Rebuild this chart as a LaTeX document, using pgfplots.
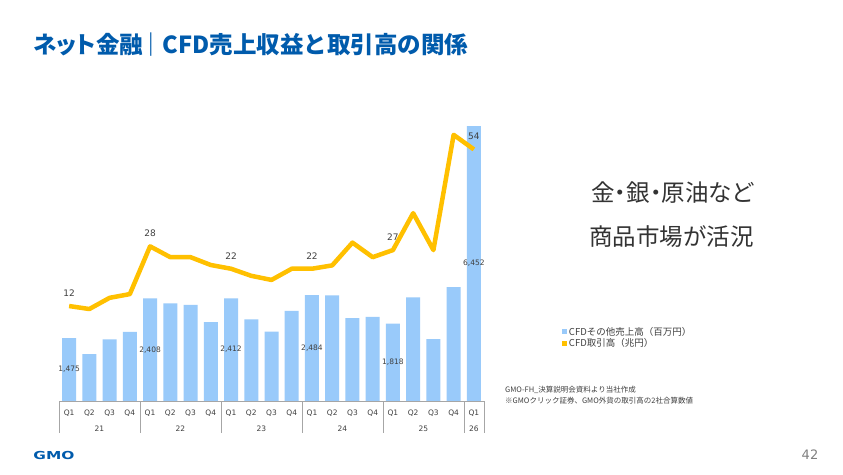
\documentclass[border=0pt]{standalone}
\usepackage{pgfplots}
\pgfplotsset{compat=1.18}
\usepackage{fontspec}
\setmainfont{DejaVu Sans}
\newfontfamily\jp{Noto Sans CJK JP}
\newfontfamily\jpp{Noto Sans CJK JP}[RawFeature=+palt]
\definecolor{barblue}{RGB}{153,202,250}
\definecolor{gold}{RGB}{255,192,0}
\definecolor{gmoblue}{RGB}{0,91,172}
\definecolor{txt}{RGB}{64,64,64}
\definecolor{sep}{RGB}{166,166,166}
\begin{document}
\begin{tikzpicture}
\useasboundingbox[fill=white] (0,0) rectangle (843pt,474pt);
\node[anchor=west, text=gmoblue, font=\jp\bfseries\fontsize{23.5}{23.5}\selectfont, inner sep=0pt] at (33pt,429pt) {{\jpp\bfseries ネット}金融\hspace{-4pt}｜\hspace{0pt}CFD売上収益と取引高の関係};
% bars
\begin{axis}[at={(59pt,73pt)}, anchor=south west, scale only axis,
  width=425pt, height=291pt, xmin=-0.5, xmax=20.5, ymin=0, ymax=6831,
  clip=false, axis line style={draw=none}, ytick=\empty,
  xtick={0,...,20}, major tick length=0pt,
  xticklabels={Q1,Q2,Q3,Q4,Q1,Q2,Q3,Q4,Q1,Q2,Q3,Q4,Q1,Q2,Q3,Q4,Q1,Q2,Q3,Q4,Q1},
  xticklabel style={font=\fontsize{7.5}{7.5}\selectfont, text=txt, anchor=center, yshift=-12pt},
  extra x ticks={1.5,5.5,9.5,13.5,17.5,20},
  extra x tick labels={21,22,23,24,25,26},
  extra x tick style={xticklabel style={yshift=-16pt}},
]
\addplot[ybar, bar width=14pt, fill=barblue, draw=none] coordinates {
(0,1475) (1,1103) (2,1448) (3,1620) (4,2408) (5,2293) (6,2254) (7,1854)
(8,2412) (9,1918) (10,1627) (11,2113) (12,2484) (13,2480) (14,1948) (15,1972)
(16,1818) (17,2434) (18,1455) (19,2676) (20,6452)};
\addplot[draw=none, mark=none, nodes near coords, point meta=explicit symbolic,
  nodes near coords align=center,
  every node near coord/.append style={font=\fontsize{7.5}{7.5}\selectfont, text=txt, anchor=center}]
coordinates {(0,737.5)[1,475] (4,1204)[2,408] (8,1206)[2,412] (12,1242)[2,484] (16,909)[1,818] (20,3226)[6,452]};
\draw[sep] (axis cs:-0.5,0) -- (axis cs:20.5,0);
\draw[sep] (axis cs:-0.5,0) -- ([yshift=-32pt]axis cs:-0.5,0);
\draw[sep] (axis cs:3.5,0) -- ([yshift=-32pt]axis cs:3.5,0);
\draw[sep] (axis cs:7.5,0) -- ([yshift=-32pt]axis cs:7.5,0);
\draw[sep] (axis cs:11.5,0) -- ([yshift=-32pt]axis cs:11.5,0);
\draw[sep] (axis cs:15.5,0) -- ([yshift=-32pt]axis cs:15.5,0);
\draw[sep] (axis cs:19.5,0) -- ([yshift=-32pt]axis cs:19.5,0);
\draw[sep] (axis cs:20.5,0) -- ([yshift=-32pt]axis cs:20.5,0);
\end{axis}
% line
\begin{axis}[at={(59pt,73pt)}, anchor=south west, scale only axis,
  width=425pt, height=291pt, xmin=-0.5, xmax=20.5, ymin=-13.46, ymax=64.56,
  clip=false, hide axis,
  legend style={draw=none, fill=none, at={(axis description cs:1.183,0.262)}, anchor=north west,
    font=\jp\fontsize{9.5}{9.5}\selectfont, text=txt, row sep=-2pt, inner sep=0pt},
  legend cell align=left,
  legend image code/.code={\fill[draw=none] (0pt,-2.5pt) rectangle (5pt,2.5pt);},
]
\addlegendimage{barblue, fill=barblue}
\addlegendentry{CFDその他売上高（百万円）}
\addplot[gold, line width=4.5pt, line join=round, mark=none] coordinates {
(0,12) (1,11.2) (2,14.2) (3,15.2) (4,28) (5,25.1) (6,25.1) (7,23.0)
(8,22) (9,20.1) (10,19.0) (11,22) (12,22) (13,22.9) (14,29.0) (15,25.1)
(16,27) (17,36.9) (18,27.0) (19,57.9) (20,54)};
\addlegendentry{CFD取引高（兆円）}
\addplot[draw=none, mark=none, nodes near coords, point meta=explicit symbolic,
  nodes near coords align=center, forget plot,
  every node near coord/.append style={font=\fontsize{9}{9}\selectfont, text=txt, anchor=center, yshift=13pt}]
coordinates {(0,12)[12] (4,28)[28] (8,22)[22] (12,22)[22] (16,27)[27] (20,54)[54]};
\end{axis}
\node[font=\jpp\fontsize{23.5}{23.5}\selectfont, text=black!80] at (672.5pt,281pt) {金・銀・原油など};
\node[font=\jp\fontsize{23.5}{23.5}\selectfont, text=black!80] at (671.5pt,237pt) {商品市場が活況};
\node[anchor=west, font=\jp\fontsize{7.5}{7.5}\selectfont, text=txt, inner sep=0pt] at (505pt,84pt) {GMO-FH\_決算説明会資料より当社作成};
\node[anchor=west, font=\jp\fontsize{7.5}{7.5}\selectfont, text=txt, inner sep=0pt] at (505pt,73pt) {※GMOクリック証券、GMO外貨の取引高の2社合算数値};
\node[font=\bfseries\fontsize{11}{11}\selectfont, text=gmoblue, xscale=1.4] at (54pt,19pt) {GMO};
\node[font=\fontsize{13}{13}\selectfont, text=black!50] at (810pt,19pt) {42};
\end{tikzpicture}
\end{document}
